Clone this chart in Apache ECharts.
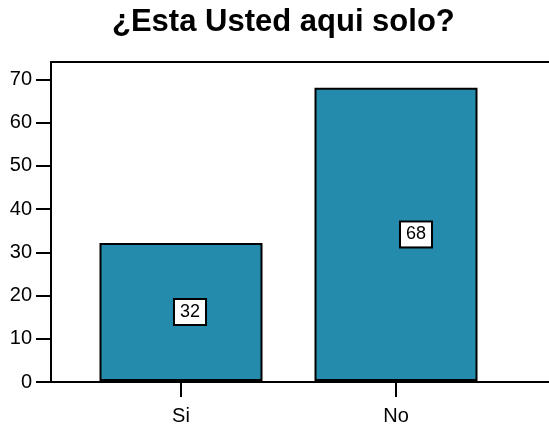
<!DOCTYPE html>
<html>
<head>
<meta charset="utf-8">
<script src="https://cdn.jsdelivr.net/npm/echarts@6/dist/echarts.min.js"></script>
<style>html,body{margin:0;padding:0;background:#fff;}#c{width:549px;height:426px;}</style>
</head>
<body>
<div id="c"></div>
<script>
var titleText = '¿Esta Usted aqui solo?';
var categories = ['Si', 'No'];
var counts = [32, 68];
var yTicks = [0, 10, 20, 30, 40, 50, 60, 70];

var chart = echarts.init(document.getElementById('c'), null, {renderer: 'canvas'});
var font = 'Liberation Sans, Arial, sans-serif';
var lineStyle = {color: '#000', width: 2};
var labelNudge = [9, 20];
chart.setOption({
  animation: false,
  title: {
    text: titleText, left: 107, top: 2,
    textStyle: {fontFamily: font, fontSize: 31, fontWeight: 'bold', color: '#000'}
  },
  grid: [
    {left: 51, right: 0, top: 62, bottom: 44},
    {left: 73.5, right: 45.5, top: 62, bottom: 44}
  ],
  xAxis: [
    {gridIndex: 0, type: 'value', min: 0, max: 1, position: 'bottom',
     axisLine: {show: true, onZero: false, lineStyle: lineStyle},
     axisTick: {show: false}, axisLabel: {show: false}, splitLine: {show: false}},
    {gridIndex: 0, type: 'value', min: 0, max: 1, position: 'top',
     axisLine: {show: true, onZero: false, lineStyle: lineStyle},
     axisTick: {show: false}, axisLabel: {show: false}, splitLine: {show: false}},
    {gridIndex: 1, type: 'category', data: categories,
     axisLine: {show: false},
     axisTick: {show: true, alignWithLabel: true, length: 16, lineStyle: lineStyle},
     axisLabel: {fontFamily: font, fontSize: 20, color: '#000', margin: 25}}
  ],
  yAxis: [
    {gridIndex: 0, type: 'value', min: 0, max: 74, interval: 10,
     axisLine: {show: true, onZero: false, lineStyle: lineStyle},
     splitLine: {show: false},
     axisTick: {show: true, length: 15, customValues: yTicks, lineStyle: lineStyle},
     axisLabel: {fontFamily: font, fontSize: 20, color: '#000', margin: 19, customValues: yTicks}},
    {gridIndex: 1, type: 'value', min: 0, max: 74, show: false}
  ],
  series: [{
    type: 'bar', xAxisIndex: 2, yAxisIndex: 1,
    data: counts.map(function (v, i) {
      return {value: v, label: {offset: [labelNudge[i], 0]}};
    }),
    barWidth: 163,
    itemStyle: {color: '#248BAD', borderColor: '#000', borderWidth: 2},
    label: {
      show: true, position: 'inside', fontFamily: font, fontSize: 18, color: '#000',
      backgroundColor: '#fff', borderColor: '#000', borderWidth: 2, padding: [3, 5, 3, 5]
    }
  }]
});
</script>
</body>
</html>
